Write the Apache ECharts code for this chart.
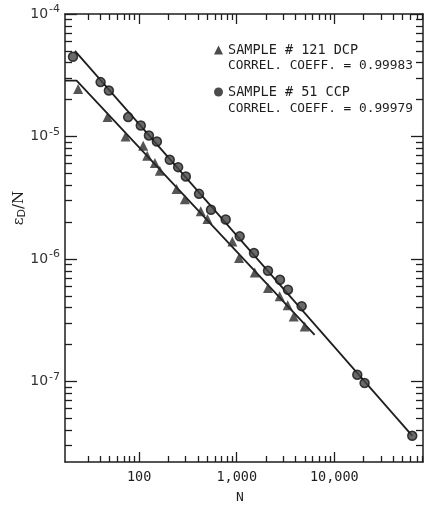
<!DOCTYPE html>
<html><head><meta charset="utf-8">
<script src="https://cdn.jsdelivr.net/npm/echarts@6/dist/echarts.min.js"></script>
<style>html,body{margin:0;padding:0;background:#fff}#c{width:427px;height:506px}</style>
</head><body><div id="c"></div>
<script>
// ---- data ----
const dcpName = 'SAMPLE # 121 DCP';
const ccpName = 'SAMPLE # 51 CCP';
const dcpCorrel = 'CORREL. COEFF. = 0.99983';
const ccpCorrel = 'CORREL. COEFF. = 0.99979';

const dcpN = [23.7, 47.5, 72.6, 110, 121, 145, 163, 242, 294, 428, 501, 903, 1056, 1529, 2092, 2755, 3327, 3832, 4966];
const dcpV = [2.44e-5, 1.44e-5, 1.0e-5, 8.4e-6, 6.96e-6, 6.07e-6, 5.25e-6, 3.72e-6, 3.08e-6, 2.45e-6, 2.12e-6, 1.39e-6, 1.017e-6, 7.76e-7, 5.79e-7, 4.96e-7, 4.19e-7, 3.39e-7, 2.81e-7];

const ccpN = [21.0, 40.3, 49.0, 77.2, 104, 126, 152, 206, 251, 301, 411, 545, 771, 1073, 1503, 2092, 2774, 3350, 4627, 17190, 20420, 62850];
const ccpV = [4.47e-5, 2.78e-5, 2.37e-5, 1.44e-5, 1.23e-5, 1.02e-5, 9.1e-6, 6.45e-6, 5.62e-6, 4.72e-6, 3.40e-6, 2.52e-6, 2.10e-6, 1.53e-6, 1.117e-6, 8.01e-7, 6.76e-7, 5.61e-7, 4.12e-7, 1.134e-7, 9.70e-8, 3.60e-8];

const dcpFitN = [17.4, 22.9, 6280];
const dcpFitV = [2.86e-5, 2.86e-5, 2.40e-7];
const ccpFitN = [22, 63000];
const ccpFitV = [5.0e-5, 3.6e-8];

const xMin = 17.4, xMax = 81000;
const yMin = 2.2e-8, yMax = 1e-4;

const xMajorTicks = [100, 1000, 10000];
const xTickLabels = ['100', '1,000', '10,000'];
const xMinorTicks = [30, 40, 50, 60, 70, 80, 90, 200, 300, 400, 500, 600, 700, 800, 900,
  2000, 3000, 4000, 5000, 6000, 7000, 8000, 9000, 20000, 30000, 40000, 50000, 60000, 70000, 80000];
const yMajorTicks = [1e-7, 1e-6, 1e-5, 1e-4];
const yTickExponents = ['-7', '-6', '-5', '-4'];
const yMinorTicks = [3e-8, 4e-8, 5e-8, 6e-8, 7e-8, 8e-8, 9e-8,
  2e-7, 3e-7, 4e-7, 5e-7, 6e-7, 7e-7, 8e-7, 9e-7,
  2e-6, 3e-6, 4e-6, 5e-6, 6e-6, 7e-6, 8e-6, 9e-6,
  2e-5, 3e-5, 4e-5, 5e-5, 6e-5, 7e-5, 8e-5, 9e-5];

// ---- chart ----
const ink = '#1e1e1e';
const mono = 'DejaVu Sans Mono';
function nearestIdx(arr, v) {
  let best = 0, bd = Infinity;
  arr.forEach((a, i) => { const d = Math.abs(Math.log10(a) - Math.log10(v)); if (d < bd) { bd = d; best = i; } });
  return best;
}
function xAx(pos, ticks, len, showLine, showLabel) {
  return {
    type: 'log', position: pos, min: xMin, max: xMax, gridIndex: 0,
    axisLine: { show: showLine, onZero: false, lineStyle: { color: ink, width: 1.5 } },
    axisTick: { show: true, inside: true, length: len, customValues: ticks, lineStyle: { color: ink, width: 1.3 } },
    axisLabel: showLabel ? {
      show: true, customValues: xMajorTicks, margin: 8, color: ink,
      fontFamily: mono, fontSize: 13.5,
      formatter: v => xTickLabels[nearestIdx(xMajorTicks, v)]
    } : { show: false },
    splitLine: { show: false }, minorTick: { show: false }
  };
}
function yAx(pos, ticks, len, showLine, showLabel, extra) {
  return Object.assign({
    type: 'log', position: pos, min: yMin, max: yMax, gridIndex: 0,
    axisLine: { show: showLine, onZero: false, lineStyle: { color: ink, width: 1.5 } },
    axisTick: { show: true, inside: true, length: len, customValues: ticks, lineStyle: { color: ink, width: 1.3 } },
    axisLabel: showLabel ? {
      show: true, customValues: yMajorTicks, margin: 5, color: ink,
      formatter: v => '{b|10}{s|' + yTickExponents[nearestIdx(yMajorTicks, v)] + '}',
      rich: {
        b: { fontFamily: 'DejaVu Sans', fontSize: 14, color: '#333' },
        s: { fontFamily: 'DejaVu Sans', fontSize: 11, color: '#333', padding: [0, 0, 9, 1] }
      }
    } : { show: false },
    splitLine: { show: false }, minorTick: { show: false }
  }, extra || {});
}

const chart = echarts.init(document.getElementById('c'), null, { renderer: 'canvas' });
chart.setOption({
  animation: false,
  backgroundColor: '#fff',
  grid: { left: 65, right: 4, top: 14, bottom: 44, containLabel: false, outerBoundsMode: 'none' },
  xAxis: [
    Object.assign(xAx('bottom', xMajorTicks, 10, true, true), {
      name: 'N', nameLocation: 'middle', nameGap: 29, nameMoveOverlap: false,
      nameTextStyle: { fontFamily: mono, fontSize: 13, color: ink, padding: [0, 8, 0, 0] }
    }),
    xAx('bottom', xMinorTicks, 6, false, false),
    xAx('top', xMajorTicks, 10, true, false),
    xAx('top', xMinorTicks, 6, false, false)
  ],
  yAxis: [
    yAx('left', yMajorTicks, 12, true, true, {
      name: '{a|ε}{d|D}{a|/N}', nameLocation: 'middle', nameGap: 37, nameMoveOverlap: false,
      nameTextStyle: {
        padding: [0, 0, 0, 60],
        rich: {
          a: { fontFamily: 'DejaVu Serif', fontSize: 15, color: ink },
          d: { fontFamily: 'DejaVu Sans', fontSize: 11, color: ink, padding: [7, 0, 0, 0] }
        }
      }
    }),
    yAx('left', yMinorTicks, 7, false, false),
    yAx('right', yMajorTicks, 12, true, false),
    yAx('right', yMinorTicks, 7, false, false)
  ],
  legend: {
    orient: 'vertical', left: 209, top: 38, itemGap: 28,
    itemWidth: 9, itemHeight: 9,
    textStyle: { fontFamily: mono, fontSize: 13.5, color: ink },
    data: [
      { name: dcpName, icon: 'triangle', itemStyle: { color: '#1e1e1e', borderWidth: 0 } },
      { name: ccpName, icon: 'circle', itemStyle: { color: '#1e1e1e', borderWidth: 0 } }
    ]
  },
  graphic: [
    { type: 'text', left: 228, top: 59, style: { text: dcpCorrel, font: '12.8px "DejaVu Sans Mono"', fill: ink } },
    { type: 'text', left: 228, top: 102, style: { text: ccpCorrel, font: '12.8px "DejaVu Sans Mono"', fill: ink } }
  ],
  series: [
    {
      name: 'fit121', type: 'line', xAxisIndex: 0, yAxisIndex: 0, symbol: 'none', silent: true,
      data: dcpFitN.map((n, i) => [n, dcpFitV[i]]),
      lineStyle: { color: ink, width: 1.8 }, z: 2
    },
    {
      name: 'fit51', type: 'line', xAxisIndex: 0, yAxisIndex: 0, symbol: 'none', silent: true,
      data: ccpFitN.map((n, i) => [n, ccpFitV[i]]),
      lineStyle: { color: ink, width: 1.8 }, z: 2
    },
    {
      name: dcpName, type: 'scatter', xAxisIndex: 0, yAxisIndex: 0, symbol: 'triangle', symbolSize: 10,
      data: dcpN.map((n, i) => [n, dcpV[i]]),
      itemStyle: { color: '#2a2a2a' }, z: 3
    },
    {
      name: ccpName, type: 'scatter', xAxisIndex: 0, yAxisIndex: 0, symbol: 'circle', symbolSize: 9,
      data: ccpN.map((n, i) => [n, ccpV[i]]),
      itemStyle: { color: '#444', borderColor: '#111', borderWidth: 1.5 }, z: 3
    }
  ]
});
</script>
</body></html>
